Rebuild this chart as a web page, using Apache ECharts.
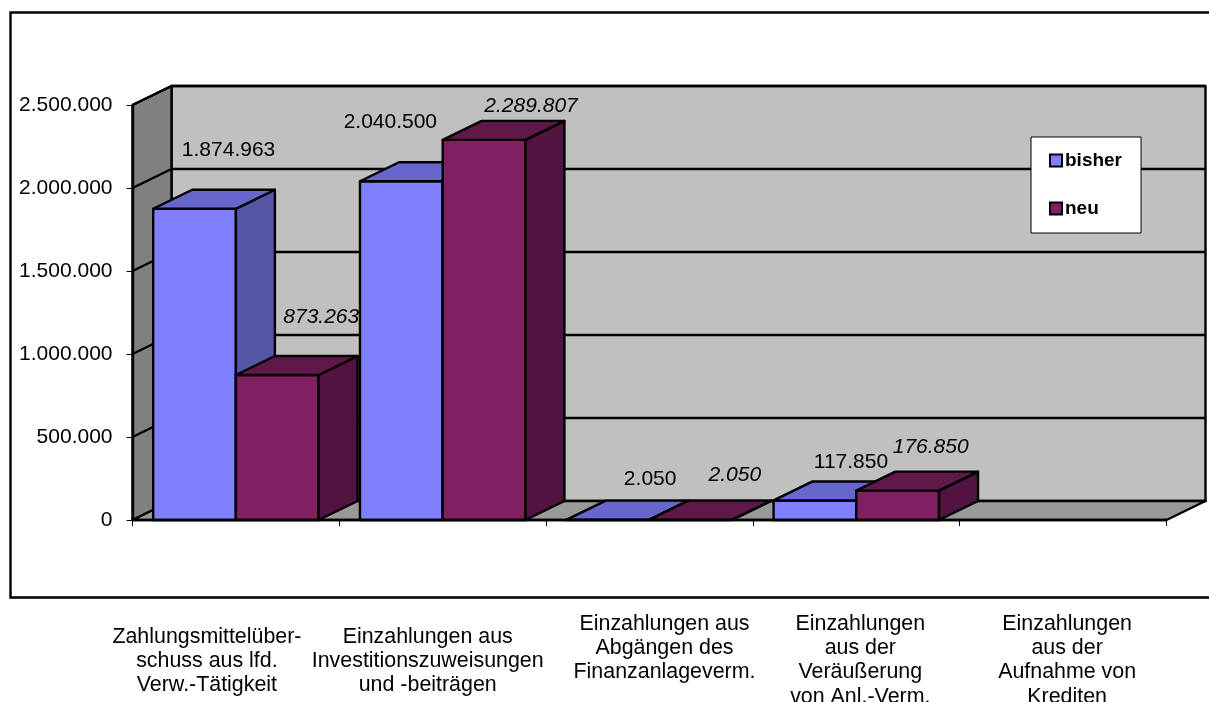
<!DOCTYPE html>
<html><head><meta charset="utf-8">
<style>html,body{margin:0;padding:0;background:#fff;overflow:hidden}#c{width:1209px;height:702px}</style>
<script src="https://cdn.jsdelivr.net/npm/echarts@6/dist/echarts.min.js"></script>
</head><body><div id="c"></div>
<script>
const categories = [
  'Zahlungsmittelüber-\nschuss aus lfd.\nVerw.-Tätigkeit',
  'Einzahlungen aus\nInvestitionszuweisungen\nund -beiträgen',
  'Einzahlungen aus\nAbgängen des\nFinanzanlageverm.',
  'Einzahlungen\naus der\nVeräußerung\nvon Anl.-Verm.',
  'Einzahlungen\naus der\nAufnahme von\nKrediten'
];
const bisher = [1874963, 2040500, 2050, 117850, 0];
const neu = [873263, 2289807, 2050, 176850, 0];
const yTicks = [0, 500000, 1000000, 1500000, 2000000, 2500000];

// styling only: depth of the 3D projection and label nudges
const DX = 39, DY = 19;
const FONT = '"Liberation Sans", Arial, sans-serif';
const bisherOffsets = [[34,-59],[-11,-59],[42,-40],[36,-38],[0,0]];
const neuOffsets = [[44,-58],[47,-34],[44,-45],[33,-43],[0,0]];
const lowered = [true, true, false, false, false];
const labelShift = [-29, -15, 15, 4, 4];

const fmt = v => String(v).replace(/\B(?=(\d{3})+(?!\d))/g, '.');
const poly = (points, fill, lw) => ({type:'polygon', shape:{points},
  style:{fill, stroke:'#000', lineWidth:lw===undefined?2.4:lw, lineJoin:'round'}});

function wallItem(params, api) {
  const v = api.value(1), cs = params.coordSys;
  const y = api.coord([0, v])[1];
  const L = cs.x, R = cs.x + cs.width;
  const kids = [];
  if (v === 0) {
    const top = api.coord([0, yTicks[yTicks.length - 1]])[1];
    kids.push(poly([[L+DX,top-DY],[R+DX,top-DY],[R+DX,y-DY],[L+DX,y-DY]], '#c0c0c0'));
    kids.push(poly([[L,top],[L+DX,top-DY],[L+DX,y-DY],[L,y]], '#808080'));
    kids.push(poly([[L,y],[L+DX,y-DY],[R+DX,y-DY],[R,y]], '#999999'));
  } else {
    kids.push({type:'polyline', shape:{points:[[L,y],[L+DX,y-DY],[R+DX,y-DY]]},
      style:{fill:null, stroke:'#000', lineWidth:2.4, lineJoin:'round'}});
  }
  return {type:'group', children:kids};
}

function barRenderer(side, colors, offsets, italic) {
  return function (params, api) {
    const v = api.value(1);
    if (!v) return null;
    const i = api.value(0);
    const band = api.size([1, 0])[0];
    const w = band * 0.4;
    const p = api.coord([i, v]), b = api.coord([i, 0]);
    const x0 = side < 0 ? p[0] - w : p[0], x1 = x0 + w;
    const t = p[1], y0 = b[1];
    const o = offsets[i];
    return {type:'group', children:[
      poly([[x0,y0],[x1,y0],[x1,t],[x0,t]], colors[0]),
      poly([[x1,y0],[x1+DX,y0-DY],[x1+DX,t-DY],[x1,t]], colors[2]),
      poly([[x0,t],[x1,t],[x1+DX,t-DY],[x0+DX,t-DY]], colors[1]),
      {type:'text', z2:10, style:{x:(x0+x1)/2+o[0], y:t+o[1], text:fmt(v), fill:'#000',
        align:'center', verticalAlign:'middle',
        font:(italic?'italic ':'')+'21px '+FONT}}
    ]};
  };
}

const richStyles = {p:{fontSize:10, lineHeight:13, height:13}};
labelShift.forEach((s, i) => {
  richStyles['t' + i] = {fontFamily:FONT, fontSize:21.4, lineHeight:24.2, color:'#000',
    padding: s < 0 ? [0, -2 * s, 0, 0] : [0, 0, 0, 2 * s]};
});

const chart = echarts.init(document.getElementById('c'), null, {renderer:'canvas'});
chart.setOption({
  animation:false,
  backgroundColor:'#fff',
  grid:{left:132.5, width:1034, top:105, height:415, outerBoundsMode:'none'},
  graphic:[{type:'rect', z:-1, shape:{x:10.5,y:12.5,width:1300,height:585},
    style:{fill:null, stroke:'#000', lineWidth:2.4}}],
  legend:{
    left:1031, top:137, orient:'vertical', align:'left',
    backgroundColor:'#fff', borderColor:'#000', borderWidth:1,
    padding:[14,19,15,18], itemWidth:12, itemHeight:12, itemGap:29,
    icon:'rect', selectedMode:false,
    textStyle:{fontFamily:FONT, fontWeight:'bold', fontSize:19, color:'#000', padding:[0,0,0,-2]},
    data:[
      {name:'bisher', itemStyle:{color:'#8080ff', borderColor:'#000', borderWidth:2}},
      {name:'neu', itemStyle:{color:'#802060', borderColor:'#000', borderWidth:2}}
    ]
  },
  xAxis:{
    type:'category', data:categories, z:5,
    axisLine:{show:true, lineStyle:{color:'#000', width:2.4}},
    axisTick:{show:true, length:6, lineStyle:{color:'#000', width:1}},
    splitLine:{show:false},
    axisLabel:{
      interval:0, margin:92, color:'#000',
      fontFamily:FONT, fontSize:21.4, lineHeight:24.2, align:'center', verticalAlign:'top',
      formatter:(val, idx) => {
        const lines = val.split('\n');
        const pre = lowered[idx] ? '{p|}\n' : '';
        return pre + lines.map(s => '{t' + idx + '|' + s + '}').join('\n');
      },
      rich:richStyles
    }
  },
  yAxis:{
    type:'value', min:0, max:2500000, interval:500000, z:5,
    axisLine:{show:true, lineStyle:{color:'#000', width:2.4}},
    axisTick:{show:true, length:6, lineStyle:{color:'#000', width:1}},
    splitLine:{show:false},
    axisLabel:{margin:20, color:'#000', fontFamily:FONT, fontSize:21, padding:[2,0,0,0], formatter:v => fmt(v)}
  },
  series:[
    {type:'custom', name:'wand', silent:true, renderItem:wallItem,
      encode:{x:0,y:1}, data:yTicks.map(v => [0, v])},
    {type:'custom', name:'bisher', renderItem:barRenderer(-1, ['#8080ff','#6666cc','#5555a6'], bisherOffsets, false),
      itemStyle:{color:'#8080ff'}, encode:{x:0,y:1}, data:bisher.map((v,i) => [i, v])},
    {type:'custom', name:'neu', renderItem:barRenderer(1, ['#802060','#60184a','#511440'], neuOffsets, true),
      itemStyle:{color:'#802060'}, encode:{x:0,y:1}, data:neu.map((v,i) => [i, v])}
  ]
});
</script></body></html>
